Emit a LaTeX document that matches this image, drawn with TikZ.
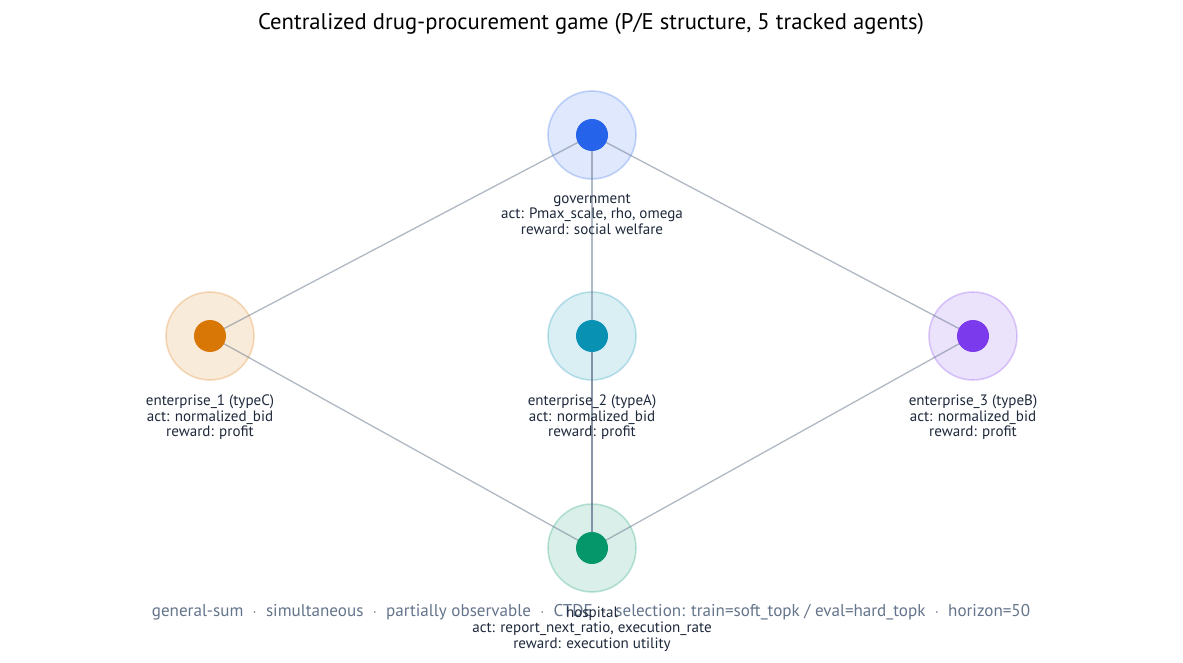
\documentclass[tikz,border=0pt]{standalone}
\usepackage{fontspec}
\setmainfont{PT Sans}
\usetikzlibrary{positioning}
\definecolor{govc}{HTML}{2563EB}
\definecolor{entc}{HTML}{D97706}
\definecolor{enta}{HTML}{0891B2}
\definecolor{entb}{HTML}{7C3AED}
\definecolor{hospc}{HTML}{059669}
\definecolor{edgec}{HTML}{64748B}
\definecolor{textc}{HTML}{1E293B}
\tikzset{halo/.style={circle,minimum size=66pt,inner sep=0pt,fill=#1,fill opacity=0.15,draw=#1,draw opacity=0.25,line width=1.2pt},
  agent/.style={circle,minimum size=24pt,inner sep=0pt,fill=#1},
  tag/.style={align=center,font=\fontsize{11.3}{11.7}\selectfont,text=textc,anchor=north},
  link/.style={draw=edgec,opacity=0.5,line width=1pt}}
\begin{document}
\begin{tikzpicture}[x=0.75pt,y=-0.75pt]
  \useasboundingbox (0,0) rectangle (1183,663);
  \node[font=\fontsize{17}{19}\selectfont,text=black] (title) at (591,24) {Centralized drug-procurement game (P/E structure, 5 tracked agents)};

  %halos
  \node[halo=govc] (gh) at (592,135) {};
  \node[halo=entc] (e1h) at (210,336) {};
  \node[halo=enta] (e2h) at (592,336) {};
  \node[halo=entb] (e3h) at (973,336) {};
  \node[halo=hospc] (hh) at (592,548) {};

  %links
  \coordinate (g) at (592,135);
  \coordinate (e1) at (210,336);
  \coordinate (e2) at (592,336);
  \coordinate (e3) at (973,336);
  \coordinate (h) at (592,548);
  \draw[link] (g) -- (e1);
  \draw[link] (g) -- (e3);
  \draw[link] (g) -- (h);
  \draw[link] (e2) -- (h);
  \draw[link] (e1) -- (h);
  \draw[link] (e3) -- (h);

  %agents
  \node[agent=govc] (gov) at (g) {};
  \node[agent=entc] (ent1) at (e1) {};
  \node[agent=enta] (ent2) at (e2) {};
  \node[agent=entb] (ent3) at (e3) {};
  \node[agent=hospc] (hosp) at (h) {};

  %footer
  \node[font=\fontsize{12.8}{14}\selectfont,text=edgec] (foot) at (591,612) {general-sum \ $\cdot$ \ simultaneous \ $\cdot$ \ partially observable \ $\cdot$ \ CTDE \ $\cdot$ \ selection: train=soft\_topk / eval=hard\_topk \ $\cdot$ \ horizon=50};

  %labels
  \node[tag] (govl) at (592,189) {government\\act: Pmax\_scale, rho, omega\\reward: social welfare};
  \node[tag] (ent1l) at (210,390) {enterprise\_1 (typeC)\\act: normalized\_bid\\reward: profit};
  \node[tag] (ent2l) at (592,390) {enterprise\_2 (typeA)\\act: normalized\_bid\\reward: profit};
  \node[tag] (ent3l) at (973,390) {enterprise\_3 (typeB)\\act: normalized\_bid\\reward: profit};
  \node[tag] (hospl) at (592,602) {hospital\\act: report\_next\_ratio, execution\_rate\\reward: execution utility};
\end{tikzpicture}
\end{document}
